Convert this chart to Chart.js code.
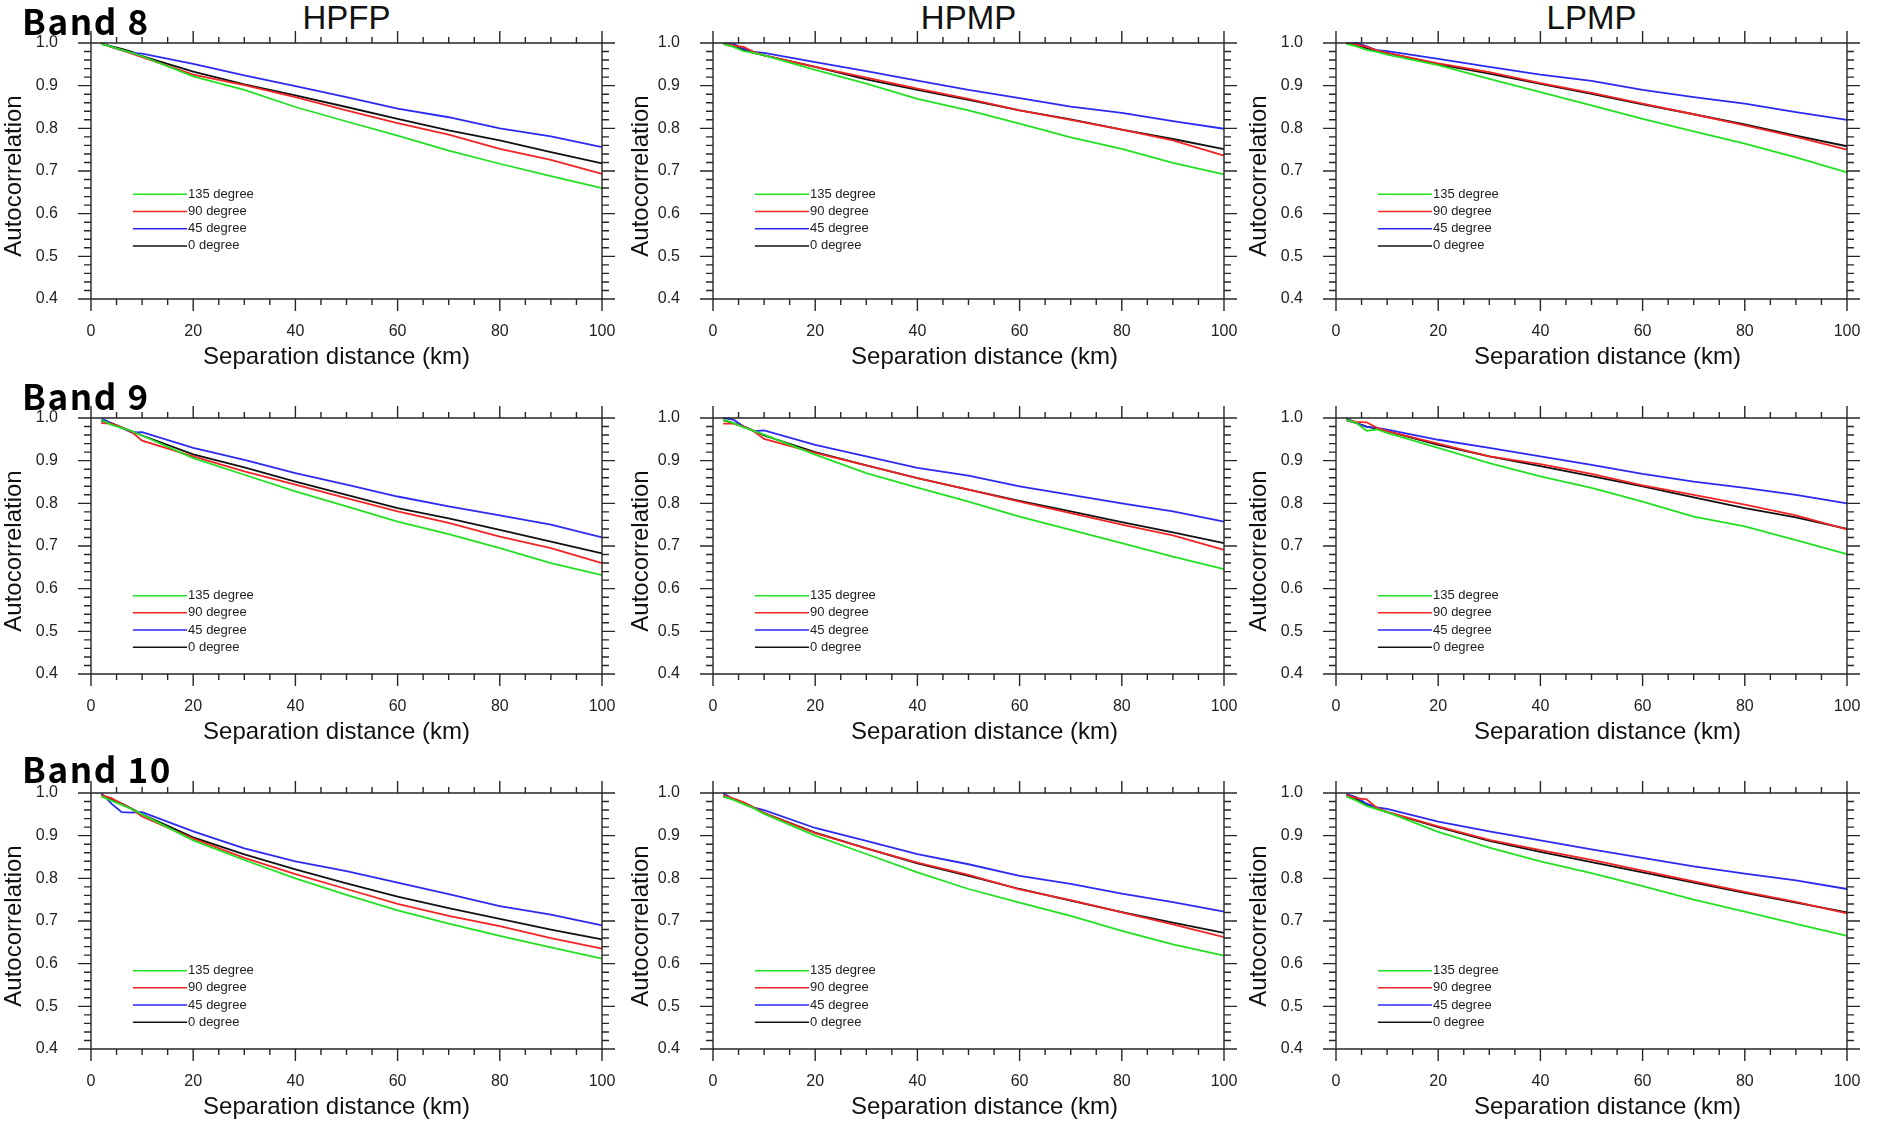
<!DOCTYPE html>
<html lang="en">
<head>
<meta charset="UTF-8">
<title>Autocorrelation vs separation distance</title>
<script src="https://cdn.jsdelivr.net/npm/chart.js@4.4.1/dist/chart.umd.min.js"></script>
<style>
  body { margin: 0; background: #fff; }
  #page { position: relative; width: 1881px; height: 1134px; overflow: hidden;
          font-family: "Liberation Sans", Arial, sans-serif; }
  #page canvas { position: absolute; }
  .col-title { position: absolute; width: 511px; text-align: center; font-size: 33px;
               line-height: 33px; color: #111; }
  .band { position: absolute; font-family: "Noto Sans CJK KR", sans-serif; font-weight: 700;
          font-size: 35px; line-height: 35px; letter-spacing: 1.6px; color: #000; z-index: 2;
          white-space: nowrap; }
</style>
</head>
<body>
<div id="page"></div>
<script>
// ---- data ----
const distances = [2, 4, 6, 8, 10, 20, 30, 40, 50, 60, 70, 80, 90, 100];
const angles = ["135 degree", "90 degree", "45 degree", "0 degree"];
const products = ["HPFP", "HPMP", "LPMP"];
const bands = ["Band 8", "Band 9", "Band 10"];
const xTickValues = [0, 20, 40, 60, 80, 100];
const yTickValues = [0.4, 0.5, 0.6, 0.7, 0.8, 0.9, 1.0];

// Band 8
const b8Hpfp135 = [0.998,0.991,0.984,0.977,0.969,0.922,0.890,0.850,0.816,0.783,0.748,0.717,0.688,0.660];
const b8Hpfp90  = [0.999,0.990,0.983,0.975,0.967,0.926,0.901,0.873,0.842,0.812,0.785,0.752,0.726,0.693];
const b8Hpfp45  = [1.000,0.991,0.983,0.977,0.975,0.951,0.924,0.899,0.873,0.846,0.826,0.800,0.781,0.756];
const b8Hpfp0   = [0.998,0.992,0.986,0.979,0.969,0.933,0.903,0.877,0.850,0.822,0.795,0.772,0.744,0.718];

const b8Hpmp135 = [0.998,0.991,0.981,0.977,0.971,0.937,0.905,0.869,0.842,0.811,0.779,0.752,0.719,0.692];
const b8Hpmp90  = [0.998,0.994,0.991,0.979,0.971,0.944,0.919,0.893,0.869,0.842,0.820,0.797,0.772,0.736];
const b8Hpmp45  = [0.999,0.998,0.987,0.979,0.977,0.955,0.934,0.912,0.890,0.871,0.851,0.836,0.817,0.799];
const b8Hpmp0   = [0.998,0.992,0.984,0.977,0.971,0.944,0.915,0.890,0.867,0.842,0.821,0.797,0.775,0.751];

const b8Lpmp135 = [0.998,0.992,0.984,0.979,0.973,0.948,0.916,0.885,0.854,0.822,0.793,0.764,0.732,0.697];
const b8Lpmp90  = [0.999,0.996,0.991,0.983,0.977,0.952,0.932,0.906,0.883,0.858,0.833,0.807,0.780,0.750];
const b8Lpmp45  = [0.999,1.000,0.992,0.983,0.981,0.963,0.944,0.926,0.911,0.890,0.873,0.858,0.838,0.820];
const b8Lpmp0   = [0.999,0.995,0.988,0.981,0.977,0.950,0.928,0.904,0.881,0.856,0.833,0.809,0.783,0.758];

// Band 9
const b9Hpfp135 = [0.996,0.984,0.977,0.969,0.959,0.906,0.867,0.828,0.793,0.757,0.728,0.695,0.660,0.632];
const b9Hpfp90  = [0.988,0.987,0.978,0.967,0.947,0.910,0.875,0.844,0.812,0.781,0.754,0.722,0.695,0.660];
const b9Hpfp45  = [1.000,0.987,0.977,0.966,0.967,0.930,0.902,0.871,0.844,0.816,0.793,0.772,0.750,0.720];
const b9Hpfp0   = [0.994,0.988,0.978,0.969,0.959,0.915,0.884,0.851,0.820,0.789,0.765,0.738,0.710,0.683];

const b9Hpmp135 = [0.996,0.988,0.978,0.970,0.961,0.914,0.871,0.837,0.804,0.769,0.738,0.707,0.675,0.646];
const b9Hpmp90  = [0.987,0.987,0.980,0.969,0.951,0.918,0.889,0.859,0.832,0.804,0.777,0.750,0.725,0.691];
const b9Hpmp45  = [1.000,0.996,0.980,0.969,0.971,0.937,0.910,0.883,0.865,0.840,0.820,0.800,0.781,0.757];
const b9Hpmp0   = [0.995,0.988,0.980,0.970,0.959,0.920,0.889,0.859,0.832,0.806,0.781,0.756,0.732,0.707];

const b9Lpmp135 = [0.996,0.988,0.970,0.973,0.965,0.930,0.894,0.863,0.836,0.804,0.769,0.746,0.714,0.681];
const b9Lpmp90  = [0.995,0.991,0.990,0.977,0.969,0.940,0.910,0.892,0.869,0.842,0.820,0.797,0.772,0.739];
const b9Lpmp45  = [1.000,0.988,0.979,0.977,0.973,0.949,0.930,0.910,0.890,0.869,0.851,0.836,0.820,0.800];
const b9Lpmp0   = [0.995,0.988,0.980,0.975,0.969,0.937,0.910,0.887,0.864,0.840,0.814,0.789,0.767,0.740];

// Band 10
const b10Hpfp135 = [0.992,0.982,0.972,0.962,0.950,0.889,0.843,0.800,0.761,0.725,0.694,0.665,0.638,0.612];
const b10Hpfp90  = [0.995,0.988,0.975,0.962,0.945,0.893,0.848,0.810,0.775,0.740,0.712,0.688,0.660,0.635];
const b10Hpfp45  = [1.000,0.975,0.955,0.954,0.955,0.910,0.870,0.840,0.817,0.790,0.763,0.735,0.715,0.690];
const b10Hpfp0   = [0.996,0.985,0.975,0.963,0.950,0.896,0.856,0.821,0.788,0.757,0.730,0.705,0.680,0.657];

const b10Hpmp135 = [0.992,0.984,0.974,0.964,0.951,0.900,0.857,0.814,0.775,0.743,0.712,0.677,0.645,0.619];
const b10Hpmp90  = [0.995,0.987,0.978,0.966,0.953,0.906,0.870,0.837,0.808,0.774,0.749,0.720,0.692,0.662];
const b10Hpmp45  = [1.000,0.985,0.975,0.966,0.960,0.918,0.888,0.857,0.833,0.806,0.787,0.764,0.744,0.722];
const b10Hpmp0   = [0.992,0.986,0.977,0.966,0.953,0.907,0.870,0.835,0.806,0.775,0.748,0.721,0.696,0.672];

const b10Lpmp135 = [0.992,0.982,0.970,0.962,0.955,0.909,0.872,0.840,0.812,0.782,0.750,0.722,0.693,0.665];
const b10Lpmp90  = [0.995,0.988,0.985,0.965,0.956,0.922,0.890,0.866,0.843,0.818,0.793,0.768,0.745,0.718];
const b10Lpmp45  = [0.998,0.990,0.975,0.966,0.963,0.933,0.910,0.889,0.868,0.848,0.828,0.811,0.795,0.775];
const b10Lpmp0   = [0.995,0.985,0.972,0.963,0.955,0.920,0.888,0.862,0.838,0.814,0.790,0.766,0.743,0.720];

// rows = bands, columns = products, series in the order of `angles`
const panels = [
  [[b8Hpfp135, b8Hpfp90, b8Hpfp45, b8Hpfp0],
   [b8Hpmp135, b8Hpmp90, b8Hpmp45, b8Hpmp0],
   [b8Lpmp135, b8Lpmp90, b8Lpmp45, b8Lpmp0]],
  [[b9Hpfp135, b9Hpfp90, b9Hpfp45, b9Hpfp0],
   [b9Hpmp135, b9Hpmp90, b9Hpmp45, b9Hpmp0],
   [b9Lpmp135, b9Lpmp90, b9Lpmp45, b9Lpmp0]],
  [[b10Hpfp135, b10Hpfp90, b10Hpfp45, b10Hpfp0],
   [b10Hpmp135, b10Hpmp90, b10Hpmp45, b10Hpmp0],
   [b10Lpmp135, b10Lpmp90, b10Lpmp45, b10Lpmp0]]
];

// ---- layout / style ----
const lineColors = ["#22e022", "#f22424", "#2a2af2", "#111111"];
const colLeft = [91, 713, 1336];
const rowTop = [43, 418, 793];
const plotW = 511, plotH = 256;
const padL = 90, padT = 20, padR = 30, padB = 72;
const legendTop = [0.591, 0.694, 0.694];   // fraction of plot height, first legend row
const legendGap = 0.0672;
const bandTop = [2, 377, 750];
const xTitleShift = [-10, 16, 16];         // the x titles are not quite centred in the figure
const yTitleX = [-77, -72, -77];
const FONT = "'Liberation Sans', Arial, sans-serif";

const axisPlugin = {
  id: "ncAxes",
  afterDatasetsDraw(chart, args, opts) {
    const { ctx, chartArea: a, scales: { x, y } } = chart;
    ctx.save();
    ctx.strokeStyle = "#262626";
    ctx.lineWidth = 1.4;
    ctx.beginPath();
    for (let v = 0; v <= 100; v += 5) {
      const px = x.getPixelForValue(v);
      const len = v % 20 === 0 ? 12 : 6;
      ctx.moveTo(px, a.bottom); ctx.lineTo(px, a.bottom + len);
      ctx.moveTo(px, a.top); ctx.lineTo(px, a.top - len);
    }
    for (let i = 0; i <= 30; i++) {
      const py = y.getPixelForValue(0.4 + i * 0.02);
      const len = i % 5 === 0 ? 13 : 7;
      ctx.moveTo(a.left, py); ctx.lineTo(a.left - len, py);
      ctx.moveTo(a.right, py); ctx.lineTo(a.right + len, py);
    }
    ctx.rect(a.left, a.top, a.width, a.height);
    ctx.stroke();

    // legend inside the plot
    ctx.font = "13px " + FONT;
    ctx.textBaseline = "middle";
    ctx.textAlign = "left";
    ctx.fillStyle = "#222";
    const x0 = a.left + a.width * 0.082, x1 = a.left + a.width * 0.188;
    angles.forEach((name, i) => {
      const ly = a.top + a.height * (opts.top + i * legendGap);
      ctx.strokeStyle = lineColors[i];
      ctx.lineWidth = 1.5;
      ctx.beginPath();
      ctx.moveTo(x0, ly); ctx.lineTo(x1, ly);
      ctx.stroke();
      ctx.fillText(name, x1 + 1, ly);
    });

    // axis titles
    ctx.fillStyle = "#111";
    ctx.font = "24px " + FONT;
    ctx.textAlign = "center";
    ctx.fillText("Separation distance (km)", (a.left + a.right) / 2 + opts.xShift, a.bottom + 58);
    ctx.translate(a.left + opts.yTitleX, (a.top + a.bottom) / 2 + 5);
    ctx.rotate(-Math.PI / 2);
    ctx.fillText("Autocorrelation", 0, 0);
    ctx.restore();
  }
};

const page = document.getElementById("page");

products.forEach((p, c) => {
  const t = document.createElement("div");
  t.className = "col-title";
  t.textContent = p;
  t.style.left = colLeft[c] + "px";
  t.style.top = "1px";
  page.appendChild(t);
});

bands.forEach((b, r) => {
  const d = document.createElement("div");
  d.className = "band";
  d.textContent = b;
  d.style.left = "22px";
  d.style.top = bandTop[r] + "px";
  page.appendChild(d);
});

bands.forEach((band, r) => {
  products.forEach((prod, c) => {
    const cv = document.createElement("canvas");
    const w = padL + plotW + padR, h = padT + plotH + padB;
    cv.width = w; cv.height = h;
    cv.style.width = w + "px"; cv.style.height = h + "px";
    cv.style.left = (colLeft[c] - padL) + "px";
    cv.style.top = (rowTop[r] - padT) + "px";
    page.appendChild(cv);

    new Chart(cv, {
      type: "line",
      data: {
        labels: distances,
        datasets: panels[r][c].map((vals, i) => ({
          label: angles[i],
          data: distances.map((d, k) => ({ x: d, y: vals[k] })),
          borderColor: lineColors[i],
          borderWidth: 1.8,
          pointRadius: 0,
          tension: 0,
          clip: 3
        }))
      },
      options: {
        responsive: false,
        animation: false,
        devicePixelRatio: 1,
        layout: { padding: { top: padT, right: padR, left: 0, bottom: 0 } },
        plugins: {
          legend: { display: false },
          tooltip: { enabled: false },
          ncAxes: { top: legendTop[r], xShift: xTitleShift[c], yTitleX: yTitleX[c] }
        },
        scales: {
          x: {
            type: "linear", min: 0, max: 100,
            afterBuildTicks: s => { s.ticks = xTickValues.map(v => ({ value: v })); },
            afterFit: s => { s.height = padB; s.paddingLeft = 0; s.paddingRight = 0; },
            grid: { display: false },
            border: { display: false },
            ticks: { color: "#222", padding: 15, maxRotation: 0, font: { family: FONT, size: 16 } }
          },
          y: {
            type: "linear", min: 0.4, max: 1.0,
            afterBuildTicks: s => { s.ticks = yTickValues.map(v => ({ value: v })); },
            afterFit: s => { s.width = padL; s.paddingTop = 0; s.paddingBottom = 0; },
            grid: { display: false },
            border: { display: false },
            ticks: { color: "#222", padding: 25, callback: v => v.toFixed(1),
                     font: { family: FONT, size: 16 } }
          }
        }
      },
      plugins: [axisPlugin]
    });
  });
});
</script>
</body>
</html>
